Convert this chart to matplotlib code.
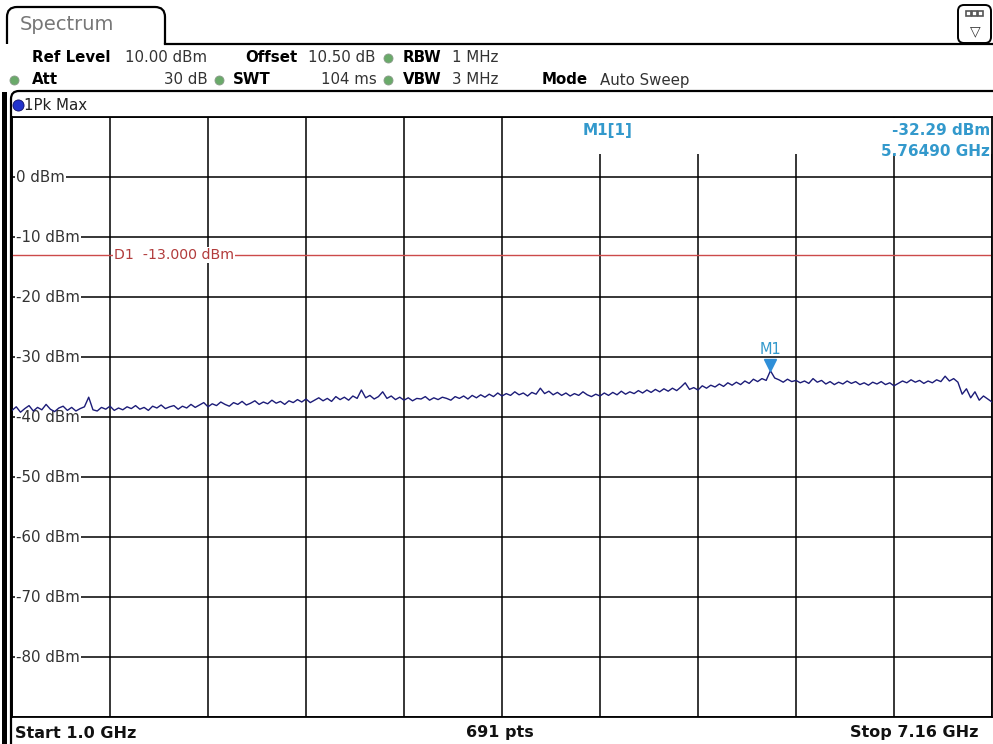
import numpy as np
import matplotlib
matplotlib.use("Agg")
import matplotlib.pyplot as plt
from matplotlib.patches import FancyBboxPatch, Rectangle

# Sweep settings
start_ghz = 1.0
stop_ghz = 7.16
ref_level = 10
n_div = 10

# Trace values (dBm), every few sweep points
trace_dbm = [
    -38.9, -38.3, -39.2, -38.6, -38.1, -39.0, -38.4, -38.8, -37.9, -38.7,
    -39.1, -38.5, -38.2, -38.9, -38.4, -39.0, -38.6, -38.3, -36.7, -38.8,
    -39.0, -38.4, -38.7, -38.2, -38.9, -38.5, -38.8, -38.3, -38.6, -38.1,
    -38.7, -38.4, -38.9, -38.2, -38.5, -38.0, -38.6, -38.3, -38.1, -38.7,
    -38.2, -38.5, -37.9, -38.4, -38.0, -37.6, -38.3, -37.8, -38.1, -37.5,
    -37.9, -38.2, -37.6, -37.9, -37.4, -38.0, -37.7, -37.3, -37.9, -37.5,
    -37.8, -37.2, -37.7, -37.4, -37.9, -37.3, -37.6, -37.1, -37.5, -37.0,
    -37.6, -37.2, -36.8, -37.3, -36.9, -37.4, -36.6, -37.1, -36.7, -37.2,
    -36.5, -36.9, -35.5, -36.8, -36.4, -37.0, -36.6, -35.8, -36.9, -36.5,
    -37.1, -36.7, -37.2, -36.8, -37.3, -36.9, -37.0, -36.6, -37.2, -36.8,
    -37.1, -36.7, -36.9, -37.2, -36.6, -36.9, -36.5, -37.0, -36.4, -36.8,
    -36.3, -36.7, -36.2, -36.6, -36.0, -36.5, -36.1, -36.4, -35.8, -36.3,
    -36.0, -36.5, -35.9, -36.2, -35.2, -36.1, -35.7, -36.3, -35.9, -36.4,
    -36.0, -36.5, -36.1, -36.4, -35.8, -36.3, -36.6, -36.2, -36.5, -36.0,
    -36.4, -35.9, -36.3, -35.7, -36.2, -35.8, -36.1, -35.6, -36.0, -35.5,
    -35.9, -35.4, -35.8, -35.3, -35.7, -35.2, -35.6, -35.0, -34.3, -35.4,
    -35.1, -35.5, -34.8, -35.2, -34.7, -35.0, -34.5, -34.9, -34.3, -34.7,
    -34.2, -34.6, -34.0, -34.4, -33.7, -34.1, -33.6, -33.9, -32.29, -33.5,
    -33.8, -34.2, -33.7, -34.1, -33.9, -34.3, -34.0, -34.4, -33.6, -34.2,
    -33.9, -34.5, -34.1, -34.6, -34.2, -34.5, -34.0, -34.4, -34.1, -34.6,
    -34.3, -34.7, -34.2, -34.5, -34.1, -34.6, -34.3, -34.8, -34.4, -34.0,
    -34.3, -33.8, -34.2, -33.9, -34.4, -34.0, -34.3, -33.8, -34.1, -33.2,
    -34.0, -33.6, -34.2, -36.2, -35.3, -36.8, -35.8, -37.2, -36.5, -37.0,
    -37.5,
]

# Marker and display line
m1_freq = 5.76490
m1_level = -32.29
d1_level = -13.0
level_labels = [0, -10, -20, -30, -40, -50, -60, -70, -80]

W, H = 993, 744
fig = plt.figure(figsize=(W / 100, H / 100), dpi=100)
fig.patch.set_facecolor("white")

# Overlay in screen pixels for the instrument frame and header texts
bg = fig.add_axes([0, 0, 1, 1])
bg.set_xlim(0, W)
bg.set_ylim(H, 0)
bg.axis("off")

mono = "DejaVu Sans"
narrow = ["Liberation Sans Narrow", "DejaVu Sans"]

# "Spectrum" tab
bg.add_patch(FancyBboxPatch((7, 7), 158, 60, boxstyle="round,pad=0,rounding_size=10",
                            fc="white", ec="black", lw=1.6, zorder=1))
bg.add_patch(Rectangle((0, 44), W, 46, fc="white", ec="none", zorder=2))
bg.plot([165, W], [43.5, 43.5], color="black", lw=1.6, zorder=3)
bg.text(20, 25, "Spectrum", fontsize=14, color="#777777", family=mono, va="center", zorder=4)

# small icon box top right
bg.add_patch(FancyBboxPatch((958, 5), 33, 38, boxstyle="round,pad=0,rounding_size=6",
                            fc="white", ec="black", lw=1.4, zorder=4))
for k in range(3):
    bg.add_patch(Rectangle((966 + k * 6, 11), 5, 5, fc="white", ec="#555555", lw=1.2, zorder=5))
bg.text(975, 31, "\u25BD", fontsize=10, ha="center", va="center", color="#333333", zorder=5)

# Header settings
green = "#6aaa6a"
row1, row2 = 58, 80
fs_h = 10.8
hdr = dict(fontsize=fs_h, family=mono, va="center", zorder=5)
bg.text(32, row1, "Ref Level", fontweight="bold", **hdr)
bg.text(125, row1, "10.00 dBm", color="#333333", **hdr)
bg.text(245, row1, "Offset", fontweight="bold", **hdr)
bg.text(308, row1, "10.50 dB", color="#333333", **hdr)
bg.text(403, row1, "RBW", fontweight="bold", **hdr)
bg.text(452, row1, "1 MHz", color="#333333", **hdr)
bg.text(32, row2, "Att", fontweight="bold", **hdr)
bg.text(208, row2, "30 dB", color="#333333", ha="right", **hdr)
bg.text(233, row2, "SWT", fontweight="bold", **hdr)
bg.text(377, row2, "104 ms", color="#333333", ha="right", **hdr)
bg.text(403, row2, "VBW", fontweight="bold", **hdr)
bg.text(452, row2, "3 MHz", color="#333333", **hdr)
bg.text(542, row2, "Mode", fontweight="bold", **hdr)
bg.text(600, row2, "Auto Sweep", color="#333333", **hdr)
for (x, y) in [(388, row1), (14, row2), (219, row2), (388, row2)]:
    bg.plot(x, y, "o", ms=6.5, color=green, mec="#8a9a8a", mew=0.6, zorder=5)

# Trace window frame
bg.add_patch(FancyBboxPatch((11, 91), 1000, 700, boxstyle="round,pad=0,rounding_size=8",
                            fc="white", ec="black", lw=1.6, zorder=3))
bg.add_patch(Rectangle((2, 92), 5, 660, fc="black", ec="none", zorder=4))
bg.plot(18, 105, "o", ms=8, color="#2233cc", mec="#111166", mew=0.6, zorder=5)
bg.text(24, 105, "1Pk Max", fontsize=fs_h, family=mono, va="center", color="#222222", zorder=5)

# Bottom status row
bot = dict(fontsize=11.5, family=narrow, fontweight="bold", va="center", color="#111111", zorder=5)
bg.text(15, 733, "Start 1.0 GHz", ha="left", **bot)
bg.text(500, 733, "691 pts", ha="center", **bot)
bg.text(978, 733, "Stop 7.16 GHz", ha="right", **bot)

# Diagram area
ax = fig.add_axes([12 / W, (H - 717) / H, 980 / W, 600 / H])
ax.set_zorder(5)
ax.set_facecolor("white")
ax.set_xlim(start_ghz, stop_ghz)
ax.set_ylim(ref_level - 100, ref_level)
ax.set_xticks(np.linspace(start_ghz, stop_ghz, n_div + 1))
ax.set_yticks(np.arange(ref_level - 100, ref_level + 1, 10))
ax.set_axisbelow(True)
ax.grid(True, color="black", lw=1.1)
ax.tick_params(length=0, labelbottom=False, labelleft=False)
for sp in ax.spines.values():
    sp.set_color("black")
    sp.set_linewidth(1.3)

# level labels sit on the grid lines at the left edge
x_lab = start_ghz + 0.025
for lvl in level_labels:
    ax.text(x_lab, lvl, f"{lvl} dBm", fontsize=fs_h, family=mono, color="#333333",
            ha="left", va="center", zorder=2,
            bbox=dict(fc="white", ec="none", pad=0.6))

# display line D1
ax.axhline(d1_level, color="#cc4a4a", lw=1.0, zorder=2)
ax.text(1.64, d1_level, "D1  -13.000 dBm", fontsize=10.2, family=mono, color="#b23c3c",
        ha="left", va="center", zorder=2, bbox=dict(fc="white", ec="none", pad=0.8))

# white field behind the marker readout covers the top of the grid
ax.add_patch(Rectangle((0.503, 0.938), 0.497, 0.06, transform=ax.transAxes,
                       fc="white", ec="none", zorder=2))

# trace
freqs = np.linspace(start_ghz, stop_ghz, len(trace_dbm))
ax.plot(freqs, trace_dbm, color="#1c1c78", lw=1.0, zorder=3)

# marker M1
mcol = "#3399cc"
ax.plot(m1_freq, m1_level + 0.9, marker="v", ms=8, color="#2f8fd8", zorder=4)
ax.text(m1_freq, m1_level + 3.6, "M1", fontsize=10.5, family=mono, color=mcol,
        ha="center", va="center", zorder=4)
ax.text(583 / 980 - 12 / 980, 0.977, "M1[1]", transform=ax.transAxes, fontsize=11,
        family=mono, fontweight="bold", color=mcol, ha="left", va="center", zorder=4)
ax.text(0.998, 0.977, "-32.29 dBm", transform=ax.transAxes, fontsize=11, family=mono,
        fontweight="bold", color=mcol, ha="right", va="center", zorder=4)
ax.text(0.998, 0.942, "5.76490 GHz", transform=ax.transAxes, fontsize=11, family=mono,
        fontweight="bold", color=mcol, ha="right", va="center", zorder=4)

plt.savefig("out.png", dpi=100)
